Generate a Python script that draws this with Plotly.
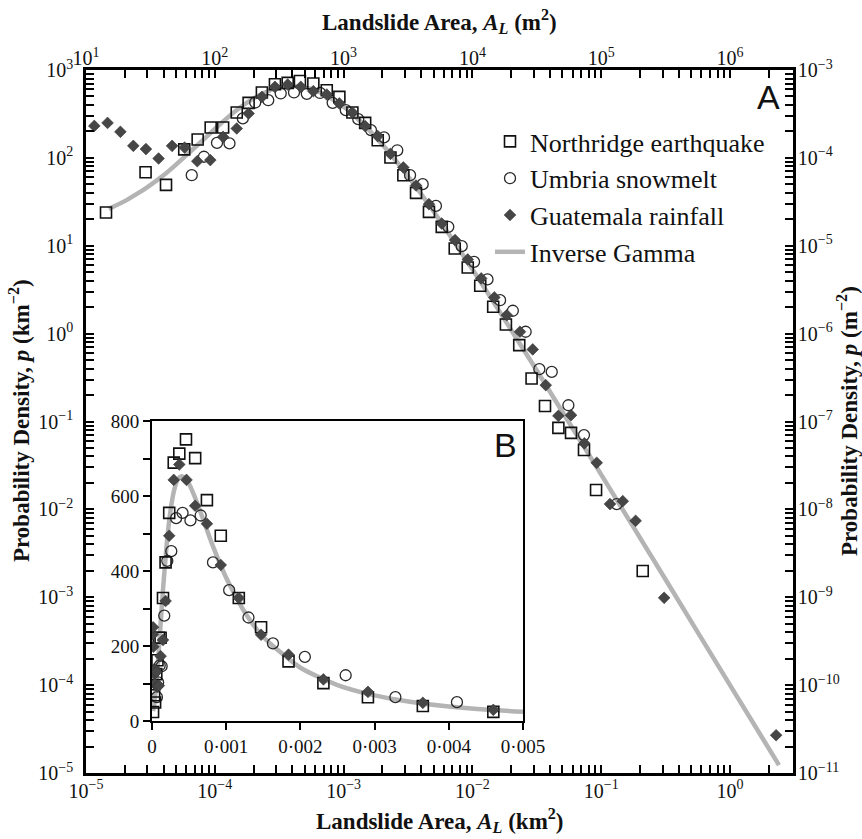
import plotly.graph_objects as go

# ---------------- data (km^2, km^-2) ----------------
nr_area = [1.43e-5, 2.90e-5, 4.18e-5, 5.79e-5, 7.36e-5, 9.29e-5, 1.16e-4, 1.48e-4, 1.83e-4,
           2.32e-4, 2.93e-4, 3.68e-4, 4.58e-4, 5.82e-4, 7.40e-4, 9.27e-4, 1.17e-3, 1.47e-3,
           1.84e-3, 2.31e-3, 2.91e-3, 3.65e-3, 4.60e-3, 5.78e-3, 7.29e-3, 9.20e-3, 1.15e-2,
           1.45e-2, 1.82e-2, 2.31e-2, 2.88e-2, 3.66e-2, 4.65e-2, 5.83e-2, 7.35e-2, 9.12e-2, 0.210]
nr_dens = [23.9, 68.7, 49.3, 125, 162, 222, 222, 328, 423,
           555, 689, 713, 751, 701, 589, 494, 328, 250,
           159, 101, 63.5, 40.0, 24.3, 16.4, 9.31, 5.66, 3.50,
           2.02, 1.27, 0.740, 0.309, 0.150, 0.0847, 0.0743, 0.0473, 0.0166, 0.00199]

um_area = [6.62e-5, 8.24e-5, 1.04e-4, 1.30e-4, 1.65e-4, 2.06e-4, 2.60e-4, 3.25e-4, 4.12e-4,
           5.18e-4, 6.56e-4, 8.22e-4, 1.04e-3, 1.30e-3, 1.63e-3, 2.06e-3, 2.61e-3, 3.28e-3,
           4.11e-3, 5.21e-3, 6.50e-3, 8.26e-3, 1.03e-2, 1.31e-2, 1.64e-2, 2.06e-2, 2.59e-2,
           3.31e-2, 4.13e-2, 5.56e-2, 7.35e-2, 0.132]
um_dens = [63.5, 103, 148, 146, 281, 427, 453, 541, 555,
           535, 548, 423, 349, 276, 207, 171, 122, 63.5,
           50.2, 28.4, 16.4, 9.89, 6.56, 4.14, 2.40, 1.82, 1.05,
           0.394, 0.367, 0.153, 0.0700, 0.0115]

gu_area = [1.16e-5, 1.47e-5, 1.85e-5, 2.33e-5, 2.92e-5, 3.66e-5, 4.66e-5, 5.83e-5, 7.31e-5,
           9.23e-5, 1.16e-4, 1.48e-4, 1.83e-4, 2.32e-4, 2.93e-4, 3.68e-4, 4.65e-4, 5.82e-4,
           7.40e-4, 9.27e-4, 1.17e-3, 1.47e-3, 1.84e-3, 2.31e-3, 2.91e-3, 3.65e-3, 4.60e-3,
           5.78e-3, 7.33e-3, 9.20e-3, 1.17e-2, 1.48e-2, 1.85e-2, 2.34e-2, 2.94e-2, 3.71e-2,
           4.65e-2, 5.83e-2, 7.40e-2, 9.23e-2, 0.117, 0.147, 0.185, 0.308, 2.28]
gu_dens = [231, 250, 198, 137, 126, 98.4, 137, 131, 91.6,
           94.4, 173, 216, 320, 494, 643, 684, 643, 574,
           526, 416, 328, 230, 177, 111, 77.8, 48.5, 29.7,
           17.9, 11.6, 6.98, 4.25, 2.58, 1.62, 1.05, 0.661, 0.259,
           0.116, 0.118, 0.0564, 0.0339, 0.0115, 0.0124, 0.00741, 9.86e-4, 2.69e-5]

fit_area = [1.5e-5, 2.0e-5, 2.5e-5, 3.0e-5, 4.0e-5, 5.0e-5, 6.3e-5, 8.0e-5, 1.0e-4, 1.25e-4,
            1.5e-4, 2.0e-4, 2.5e-4, 3.0e-4, 3.5e-4, 4.0e-4, 4.5e-4, 5.0e-4, 6.0e-4, 7.0e-4,
            8.0e-4, 1.0e-3, 1.25e-3, 1.5e-3, 2.0e-3, 2.5e-3, 3.0e-3, 3.5e-3, 4.0e-3, 5.0e-3,
            6.3e-3, 1.0e-2, 1.58e-2, 3.16e-2, 6.3e-2, 0.1, 0.316, 1.0, 2.4]
fit_dens = [26.3, 32.2, 39.2, 46.5, 63.4, 83.9, 114, 157, 213, 285,
            355, 475, 562, 617, 645, 653, 647, 632, 586, 532,
            477, 382, 290, 224, 142, 95.9, 68.3, 50.7, 38.8, 24.5,
            14.9, 5.41, 1.90, 0.380, 0.0744, 0.0249, 1.59e-3, 1.00e-4, 1.23e-5]

series_names = ["Northridge earthquake", "Umbria snowmelt", "Guatemala rainfall", "Inverse Gamma"]

bottom_exp = [-5, -4, -3, -2, -1, 0]
top_exp = [1, 2, 3, 4, 5, 6]
left_exp = [-5, -4, -3, -2, -1, 0, 1, 2, 3]
right_exp = [-11, -10, -9, -8, -7, -6, -5, -4, -3]
inset_xticks = [0, 0.001, 0.002, 0.003, 0.004, 0.005]
inset_xlabels = ["0", "0·001", "0·002", "0·003", "0·004", "0·005"]
inset_yticks = [0, 100, 200, 300, 400, 500, 600, 700, 800]
inset_ylabels = ["0", "", "200", "", "400", "", "600", "", "800"]


def sup(e):
    return "10<sup>" + str(e).replace("-", "−") + "</sup>"


def log_ticks(exps, upto):
    """major decade ticks labelled, 2..9 minor ticks unlabelled (kept below upto)"""
    vals, texts = [], []
    for e in exps:
        vals.append(10.0 ** e)
        texts.append(sup(e))
        for k in range(2, 10):
            v = k * 10.0 ** e
            if v < upto:
                vals.append(v)
                texts.append("")
    return vals, texts


SERIF = "Liberation Serif"
INK = "#111111"

fig = go.Figure()


def add_all(xa, ya, show):
    fig.add_trace(go.Scatter(x=fit_area, y=fit_dens, mode="lines", name=series_names[3],
                             line=dict(color="#b4b4b4", width=4.5, shape="spline", smoothing=0.6),
                             legendrank=4, showlegend=show, xaxis=xa, yaxis=ya))
    fig.add_trace(go.Scatter(x=um_area, y=um_dens, mode="markers", name=series_names[1],
                             marker=dict(symbol="circle-open", size=11, color="#2a2a2a",
                                         line=dict(width=1.3)),
                             legendrank=2, showlegend=show, xaxis=xa, yaxis=ya))
    fig.add_trace(go.Scatter(x=nr_area, y=nr_dens, mode="markers", name=series_names[0],
                             marker=dict(symbol="square-open", size=11, color="#111111",
                                         line=dict(width=1.6)),
                             legendrank=1, showlegend=show, xaxis=xa, yaxis=ya))
    fig.add_trace(go.Scatter(x=gu_area, y=gu_dens, mode="markers", name=series_names[2],
                             marker=dict(symbol="diamond", size=9, color="#464646",
                                         line=dict(width=0.6, color="#333333")),
                             legendrank=3, showlegend=show, xaxis=xa, yaxis=ya))


add_all("x", "y", True)
add_all("x2", "y2", False)
# empty trace so that the m^2 / m^-2 axes are drawn
fig.add_trace(go.Scatter(x=[None], y=[None], xaxis="x3", yaxis="y3", showlegend=False,
                         hoverinfo="skip"))

XD = [86 / 862, 793 / 862]
YD = [(839 - 773) / 839, (839 - 70) / 839]
tickfont = dict(family=SERIF, size=20, color=INK)

common_main = dict(type="log", showgrid=False, zeroline=False, showline=True, linecolor="black",
                   linewidth=2.5, ticks="inside", ticklen=8, tickwidth=2, tickcolor="black",
                   tickmode="array", showticklabels=True, tickfont=tickfont, automargin=False)

bx_v, bx_t = log_ticks(bottom_exp, 3.0)
tx_v, tx_t = log_ticks(top_exp, 3.0e6)
ly_v, ly_t = log_ticks(left_exp, 1000)
ry_v, ry_t = log_ticks(right_exp, 1e-3)

fig.update_layout(
    template="none",
    width=862, height=839, margin=dict(l=0, r=0, t=0, b=0, pad=0, autoexpand=False),
    paper_bgcolor="white", plot_bgcolor="white",
    xaxis=dict(domain=XD, anchor="y", range=[-5, 0.489], tickvals=bx_v, ticktext=bx_t,
               ticklabelstandoff=-2, **common_main),
    yaxis=dict(domain=YD, anchor="x", range=[-5, 3], tickvals=ly_v, ticktext=ly_t,
               ticklabelstandoff=6, **common_main),
    xaxis3=dict(overlaying="x", anchor="y3", side="top", range=[1, 6.489],
                tickvals=tx_v, ticktext=tx_t, ticklabelstandoff=-6, **common_main),
    yaxis3=dict(overlaying="y", anchor="x3", side="right", range=[-11, -3],
                tickvals=ry_v, ticktext=ry_t, ticklabelstandoff=-2, **common_main),
    xaxis2=dict(domain=[152 / 862, 523 / 862], anchor="y2", range=[0, 0.005],
                tickmode="array", tickvals=inset_xticks, ticktext=inset_xlabels,
                ticks="outside", ticklen=7, tickwidth=2, tickcolor="black", showline=True,
                mirror=True, linecolor="black", linewidth=2, showgrid=False, zeroline=False,
                automargin=False, tickfont=dict(family=SERIF, size=19, color=INK)),
    yaxis2=dict(domain=[(839 - 721) / 839, (839 - 421) / 839], anchor="x2", range=[0, 800],
                tickmode="array", tickvals=inset_yticks, ticktext=inset_ylabels,
                ticks="outside", ticklen=7, tickwidth=2, tickcolor="black", showline=True,
                mirror=True, linecolor="black", linewidth=2, showgrid=False, zeroline=False,
                automargin=False, tickfont=dict(family=SERIF, size=19, color=INK)),
    legend=dict(x=490 / 862, y=(839 - 118) / 839, xanchor="left", yanchor="top",
                bgcolor="rgba(0,0,0,0)", font=dict(family=SERIF, size=26, color=INK),
                tracegroupgap=0, itemwidth=30, borderwidth=0),
    showlegend=True,
)

title_font = dict(family=SERIF, size=23, color=INK)


def note(text, xpx, ypx, font, angle=0):
    fig.add_annotation(text=text, x=xpx / 862, y=(839 - ypx) / 839, xref="paper", yref="paper",
                       xanchor="center", yanchor="middle", showarrow=False, font=font,
                       textangle=angle)


note("<b>Landslide Area, <i>A<sub>L</sub></i> (km<sup>2</sup>)</b>", 439.5, 820, title_font)
note("<b>Landslide Area, <i>A<sub>L</sub></i> (m<sup>2</sup>)</b>", 439.5, 22, title_font)
note("<b>Probability Density, <i>p</i> (km<sup>−2</sup>)</b>", 20, 421, title_font, -90)
note("<b>Probability Density, <i>p</i> (m<sup>−2</sup>)</b>", 848, 421, title_font, -90)
note("A", 768, 97, dict(family="Liberation Sans", size=34, color=INK))
note("B", 505, 445, dict(family="Liberation Sans", size=34, color=INK))

fig.write_html("out.html")
